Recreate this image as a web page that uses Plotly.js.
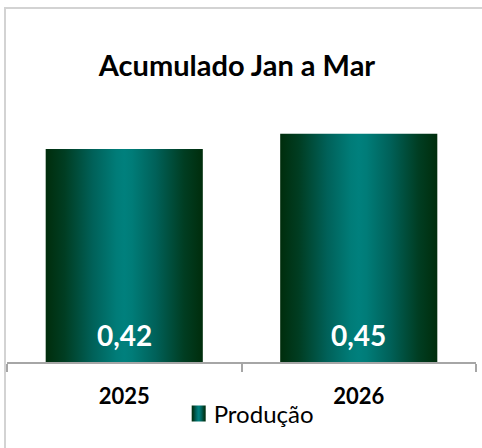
<!DOCTYPE html>
<html>
<head>
<meta charset="utf-8">
<script src="https://cdn.plot.ly/plotly-3.0.1.min.js"></script>
<style>
  html, body { margin: 0; padding: 0; background: #fff; }
  #wrap { position: relative; width: 482px; height: 448px; overflow: hidden; }
  #chart { position: absolute; left: 0; top: 0; width: 482px; height: 448px; }
  #frame { position: absolute; left: 4px; top: 7px; width: 480px; height: 445px;
           border-top: 2px solid #d3d3d3; border-left: 2px solid #d3d3d3; pointer-events: none; }
</style>
</head>
<body>
<div id="wrap">
  <div id="chart"></div>
  <div id="frame"></div>
</div>
<script>
const chartTitle = "Acumulado Jan a Mar";
const categories = ["2025", "2026"];
const producao = [0.42, 0.45];
const seriesName = "Produção";

const fmt = v => v.toFixed(2).replace('.', ',');
const FONT = "Lato, 'Open Sans', sans-serif";

const trace = {
  type: 'bar',
  x: categories,
  y: producao,
  name: seriesName,
  marker: { color: '#00695f', line: { width: 0 } },
  showlegend: true,
  hoverinfo: 'none'
};

const annotations = categories.map((c, i) => ({
  x: i, y: 0, xref: 'x', yref: 'y',
  yanchor: 'bottom', yshift: 8,
  text: '<b>' + fmt(producao[i]) + '</b>',
  showarrow: false,
  font: { family: FONT, size: 28, color: '#ffffff' }
}));

const layout = {
  width: 482, height: 448,
  margin: { l: 7, r: 6, t: 100, b: 86, pad: 0 },
  paper_bgcolor: '#ffffff', plot_bgcolor: '#ffffff',
  separators: ',.',
  title: {
    text: '<b>' + chartTitle + '</b>',
    font: { family: FONT, size: 29, color: '#000000' },
    x: 0.4917, xanchor: 'center', xref: 'container',
    y: 0.853, yanchor: 'middle', yref: 'container'
  },
  bargap: 0.33,
  xaxis: {
    type: 'category',
    range: [-0.5, 1.5],
    showline: true, linecolor: '#a6a6a6', linewidth: 2,
    ticks: 'outside', tickson: 'boundaries', ticklen: 8, tickwidth: 2, tickcolor: '#a6a6a6',
    ticklabelstandoff: 14,
    tickfont: { family: FONT, size: 22, color: '#000000', weight: 'bold' },
    showgrid: false, zeroline: false, fixedrange: true
  },
  yaxis: {
    range: [0, 0.5168],
    visible: false, showgrid: false, zeroline: false, fixedrange: true
  },
  showlegend: true,
  legend: {
    orientation: 'h', x: 0.51, xanchor: 'center', y: -0.198, yanchor: 'middle',
    font: { family: FONT, size: 24, color: '#000000' },
    bgcolor: 'rgba(0,0,0,0)', itemwidth: 30
  },
  annotations: annotations
};

Plotly.newPlot('chart', [trace], layout, { staticPlot: true, displayModeBar: false }).then(gd => {
  const svg = gd.querySelector('.main-svg');
  const NS = 'http://www.w3.org/2000/svg';
  let defs = svg.querySelector('defs');
  if (!defs) { defs = document.createElementNS(NS, 'defs'); svg.insertBefore(defs, svg.firstChild); }
  const grad = document.createElementNS(NS, 'linearGradient');
  grad.setAttribute('id', 'barGrad');
  grad.setAttribute('x1', '0'); grad.setAttribute('x2', '1');
  grad.setAttribute('y1', '0'); grad.setAttribute('y2', '0');
  const stops = [
    [0, '#002d0c'], [0.12, '#003d22'], [0.3, '#006159'], [0.45, '#007c78'],
    [0.5, '#00807d'], [0.55, '#007c78'], [0.7, '#006159'], [0.88, '#003d22'], [1, '#002d0c']
  ];
  stops.forEach(([o, c]) => {
    const s = document.createElementNS(NS, 'stop');
    s.setAttribute('offset', o); s.setAttribute('stop-color', c);
    grad.appendChild(s);
  });
  defs.appendChild(grad);
  gd.querySelectorAll('.trace.bars .point path').forEach(p => { p.style.fill = 'url(#barGrad)'; });
  gd.querySelectorAll('.legendpoints path').forEach(p => {
    p.setAttribute('d', 'M12,8H-2V-8H12Z');
    p.style.fill = 'url(#barGrad)';
  });
});
</script>
</body>
</html>
